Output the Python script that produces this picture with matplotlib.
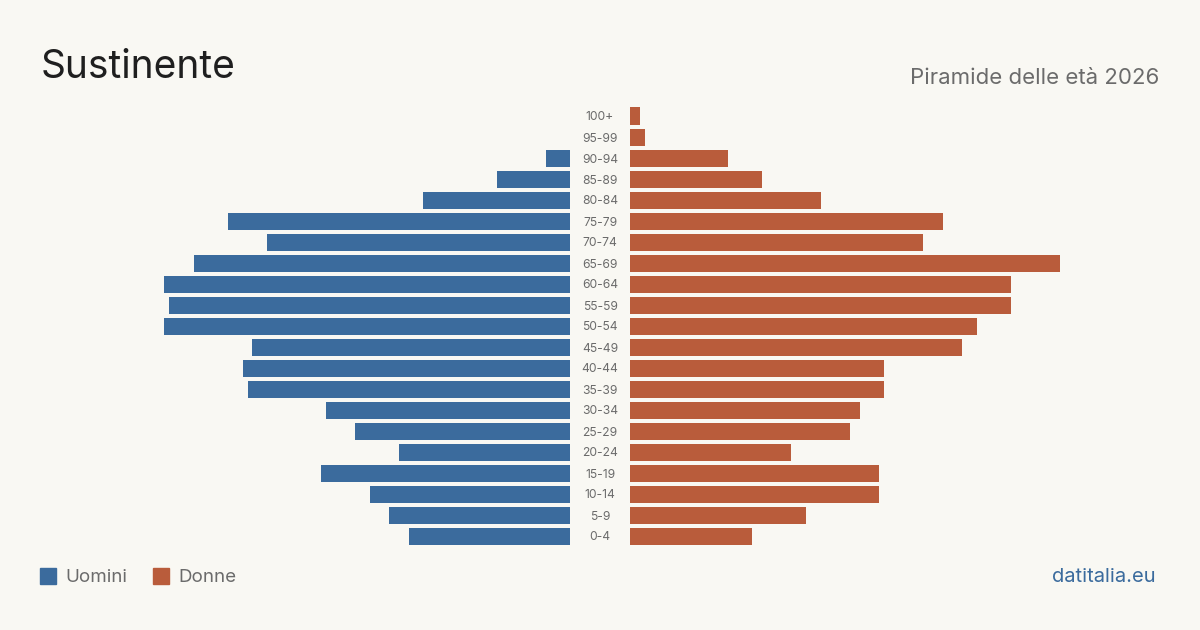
import numpy as np
import matplotlib.pyplot as plt

# fasce d'età, dal basso verso l'alto
eta = ["0-4", "5-9", "10-14", "15-19", "20-24", "25-29", "30-34", "35-39",
       "40-44", "45-49", "50-54", "55-59", "60-64", "65-69", "70-74",
       "75-79", "80-84", "85-89", "90-94", "95-99", "100+"]
uomini = [33, 37, 41, 51, 35, 44, 50, 66, 67, 65, 83, 82, 83, 77, 62,
          70, 30, 15, 5, 0, 0]
donne = [25, 36, 51, 51, 33, 45, 47, 52, 52, 68, 71, 78, 78, 88, 60,
         64, 39, 27, 20, 3, 2]

BG = "#f9f8f3"
BLU = "#3b6b9d"
ROSSO = "#b95c3b"
GRIGIO = "#6b6b6b"

plt.rcParams["font.family"] = ["Inter", "DejaVu Sans"]

W, H = 1200, 630
fig = plt.figure(figsize=(12, 6.3), dpi=100, facecolor=BG)

# assi su tutta la figura, unità in "pixel" orizzontali
px_per_unit = 430 / max(donne)
gap = 30 / px_per_unit  # mezzo spazio centrale per le etichette
ax = fig.add_axes([0, 0, 1, 1])
ax.set_facecolor(BG)
ax.set_xlim(-600 / px_per_unit, 600 / px_per_unit)
# riga 0 centrata a y=536px, passo 21px
row_px = 21
ax.set_ylim(-(H - 536) / row_px, (len(eta) - 1) + 116 / row_px)
ax.axis("off")

y = np.arange(len(eta))
u = np.array(uomini)
d = np.array(donne)
bh = 17 / row_px
ax.barh(y, -u, left=-gap, height=bh, color=BLU)
ax.barh(y, d, left=gap, height=bh, color=ROSSO)
for yi, lab in zip(y, eta):
    ax.text(0, yi - 1.5 / row_px, lab, ha="center", va="center",
            fontsize=8.7, color=GRIGIO)

# titoli
fig.text(41 / W, 1 - 67 / H, "Sustinente", fontsize=28, color="#1f1f1f",
         ha="left", va="center")
fig.text(1159 / W, 1 - 77.5 / H, "Piramide delle età 2026", fontsize=16,
         color=GRIGIO, ha="right", va="center")

# legenda
for x0, col, lab in [(40, BLU, "Uomini"), (153, ROSSO, "Donne")]:
    fig.patches.append(plt.Rectangle((x0 / W, 1 - 584 / H), 16 / W, 16 / H,
                                     transform=fig.transFigure, color=col))
    fig.text((x0 + 25) / W, 1 - 577.5 / H, lab, fontsize=13.5, color=GRIGIO,
             ha="left", va="center")

fig.text(1156 / W, 1 - 577 / H, "datitalia.eu", fontsize=14.5, color=BLU,
         ha="right", va="center")

fig.savefig("out.png", dpi=100, facecolor=BG)
